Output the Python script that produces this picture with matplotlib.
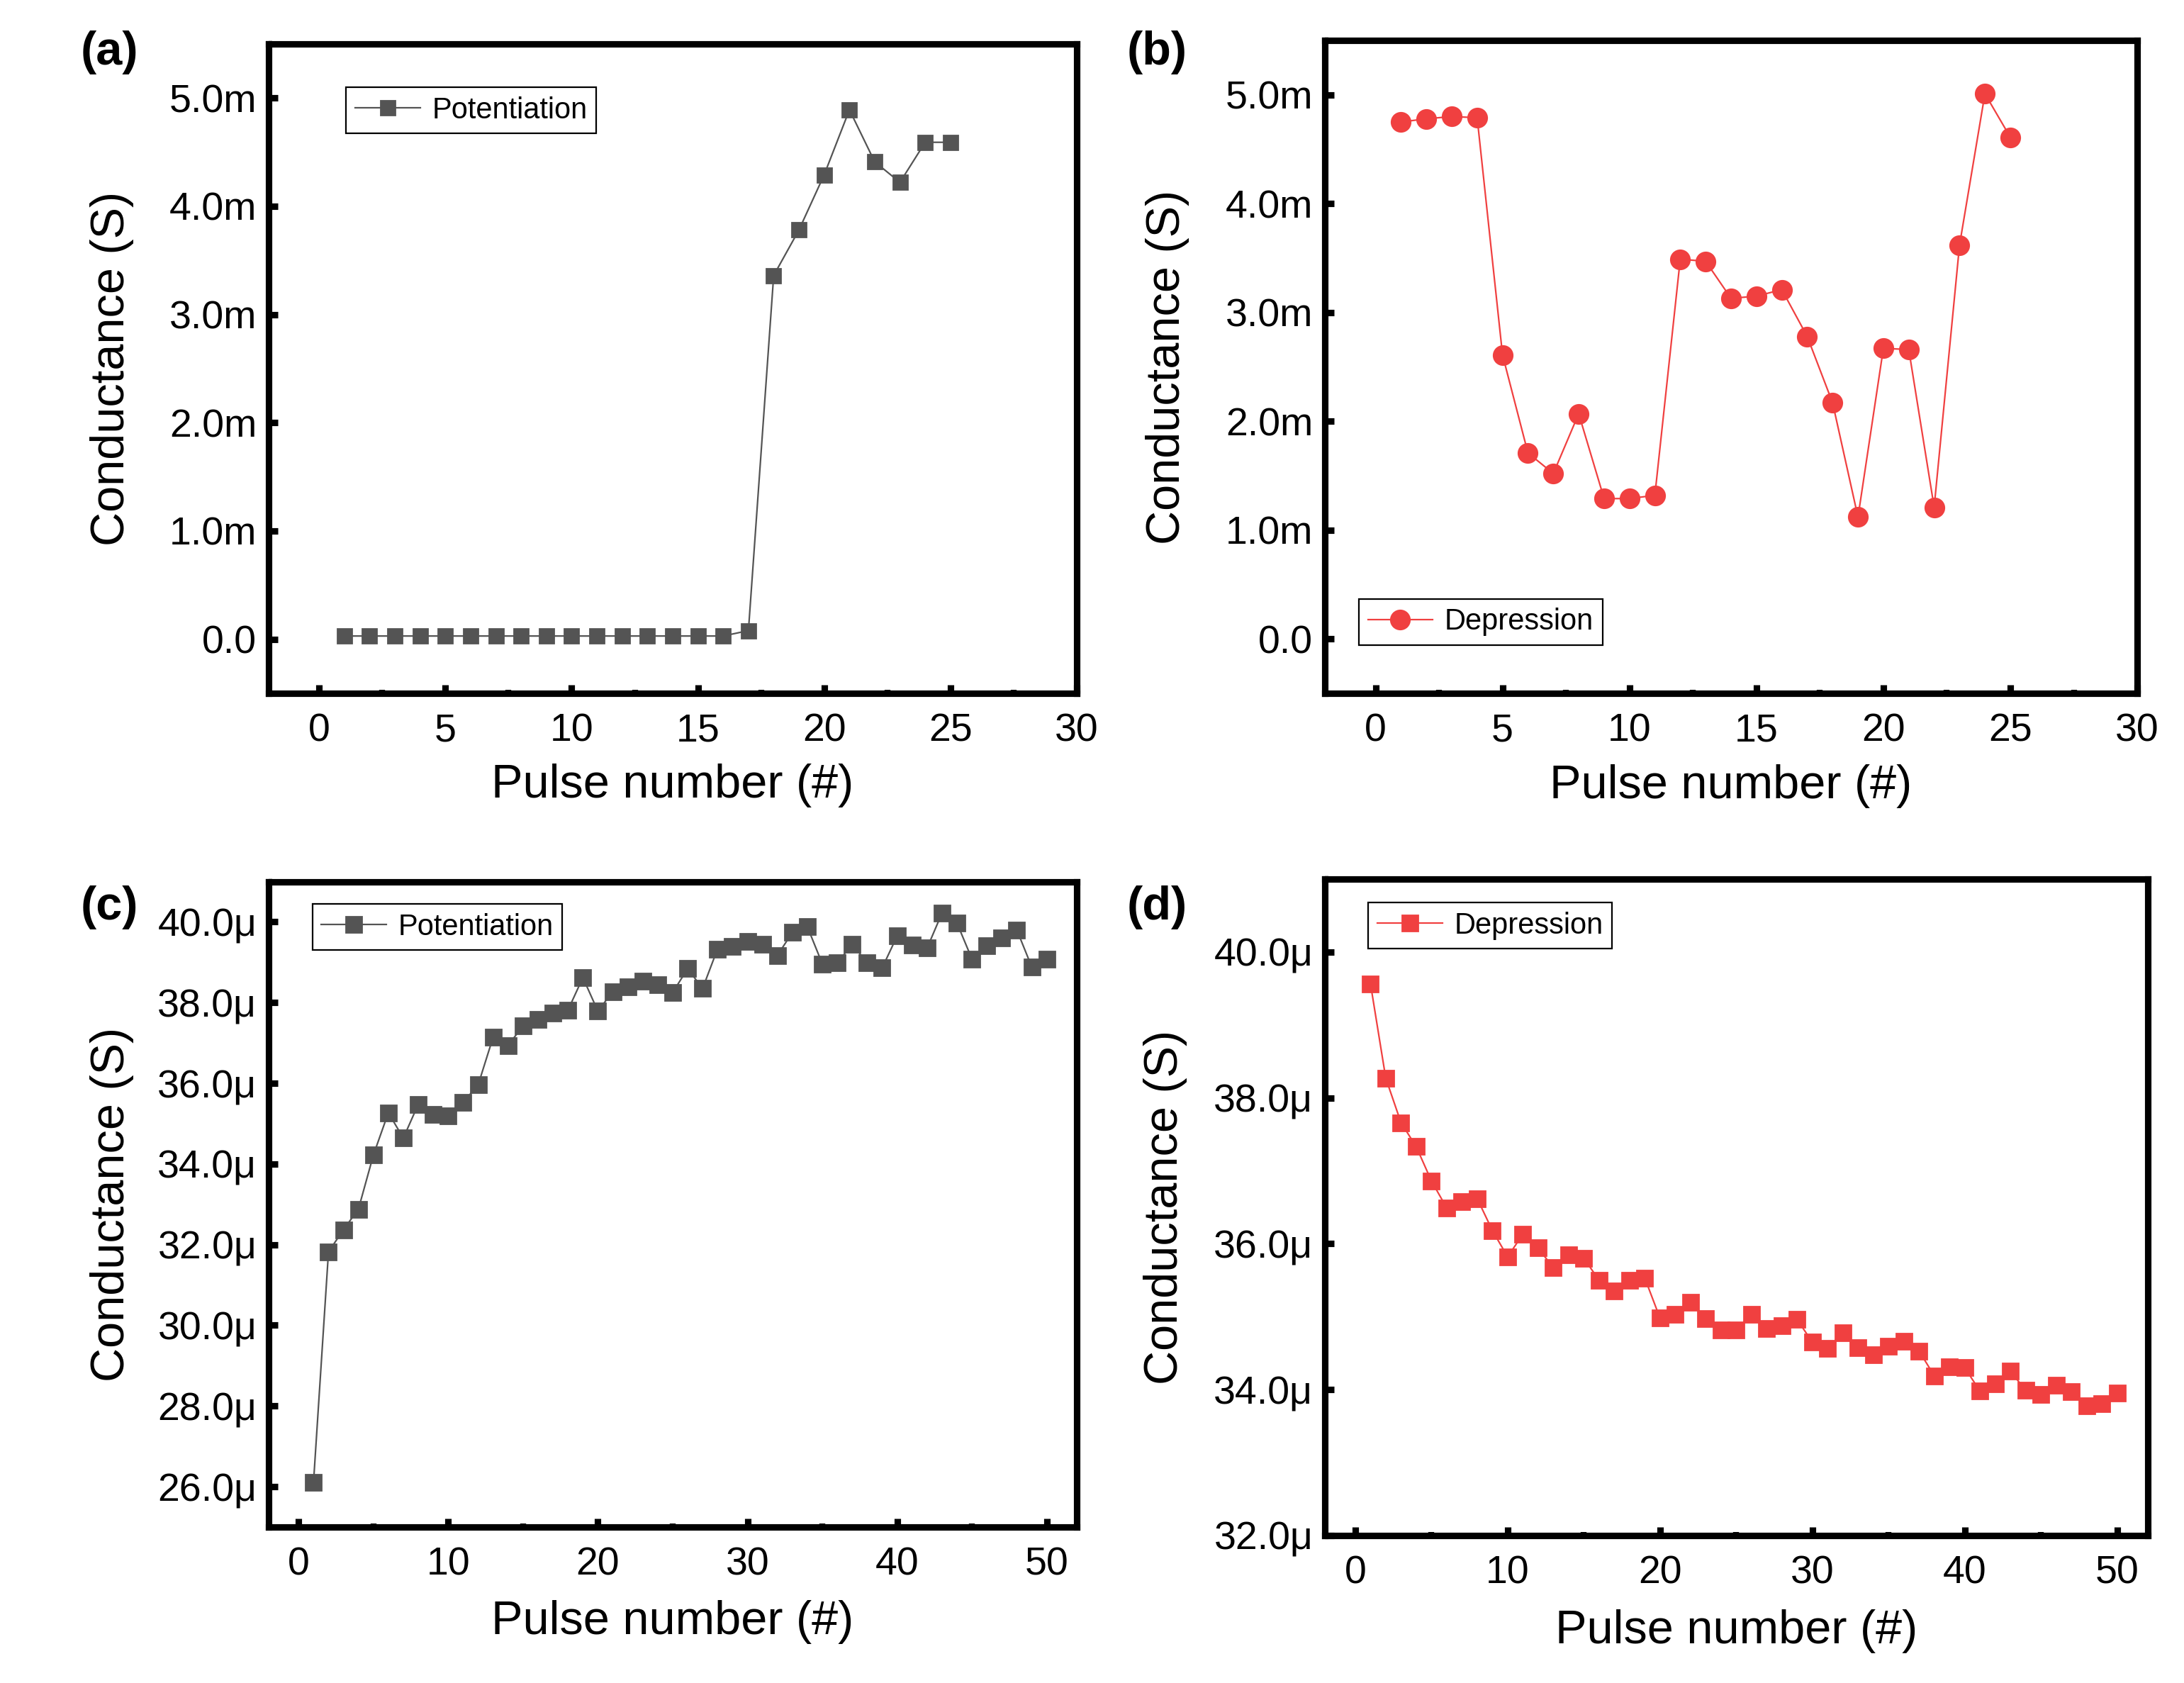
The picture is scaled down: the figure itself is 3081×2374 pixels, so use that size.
import numpy as np
import matplotlib
matplotlib.use("Agg")
import matplotlib.pyplot as plt
from matplotlib.ticker import MultipleLocator, FuncFormatter

plt.rcParams['font.family'] = ['Liberation Sans', 'DejaVu Sans']

# (a) potentiation, 25 pulses, conductance in mS
pulse_a = np.arange(1, 26)
pot_a = [0.03, 0.03, 0.03, 0.03, 0.03, 0.03, 0.03, 0.03, 0.03, 0.03,
         0.03, 0.03, 0.03, 0.03, 0.03, 0.03, 0.08, 3.36, 3.78, 4.29,
         4.89, 4.41, 4.22, 4.59, 4.59]

# (b) depression, 25 pulses, conductance in mS
pulse_b = np.arange(1, 26)
dep_b = [4.75, 4.78, 4.80, 4.79, 2.61, 1.71, 1.52, 2.07, 1.29, 1.29,
         1.32, 3.49, 3.47, 3.13, 3.15, 3.21, 2.78, 2.17, 1.12, 2.67,
         2.66, 1.21, 3.62, 5.01, 4.61]

# (c) potentiation, 50 pulses, conductance in uS
pulse_c = np.arange(1, 51)
pot_c = [26.11, 31.82, 32.37, 32.88, 34.22, 35.27, 34.64, 35.48, 35.23, 35.19,
         35.53, 35.96, 37.14, 36.94, 37.42, 37.58, 37.74, 37.81, 38.62, 37.79,
         38.27, 38.39, 38.53, 38.45, 38.25, 38.84, 38.35, 39.33, 39.39, 39.52,
         39.44, 39.17, 39.74, 39.88, 38.96, 38.98, 39.45, 38.98, 38.86, 39.65,
         39.42, 39.35, 40.22, 39.97, 39.08, 39.41, 39.60, 39.80, 38.88, 39.08]

# (d) depression, 50 pulses, conductance in uS
pulse_d = np.arange(1, 51)
dep_d = [39.56, 38.27, 37.66, 37.33, 36.86, 36.49, 36.58, 36.62, 36.18, 35.82,
         36.13, 35.94, 35.67, 35.85, 35.80, 35.50, 35.35, 35.50, 35.53, 34.98,
         35.03, 35.20, 34.97, 34.82, 34.82, 35.03, 34.84, 34.88, 34.96, 34.65,
         34.56, 34.78, 34.57, 34.48, 34.59, 34.66, 34.53, 34.19, 34.31, 34.30,
         33.98, 34.08, 34.25, 33.99, 33.93, 34.06, 33.97, 33.78, 33.81, 33.95]

gray = '#545454'
red = '#f04040'

fig = plt.figure(figsize=(15.405, 11.87), dpi=200)

ax_a = fig.add_axes([0.123, 0.588, 0.370, 0.386])
ax_b = fig.add_axes([0.6066, 0.588, 0.372, 0.388])
ax_c = fig.add_axes([0.123, 0.0927, 0.370, 0.3835])
ax_d = fig.add_axes([0.6066, 0.0877, 0.3767, 0.390])


def fmt(suffix):
    def f(v, p):
        if abs(v) < 1e-9:
            return "0.0"
        return f"{v:.1f}{suffix}"
    return FuncFormatter(f)


def style(ax, xmaj, xmin, ymaj, ymin, suffix, xlab_y):
    for s in ax.spines.values():
        s.set_linewidth(3.3)
    ax.xaxis.set_major_locator(MultipleLocator(xmaj))
    ax.xaxis.set_minor_locator(MultipleLocator(xmin))
    ax.yaxis.set_major_locator(MultipleLocator(ymaj))
    ax.yaxis.set_minor_locator(MultipleLocator(ymin))
    ax.yaxis.set_major_formatter(fmt(suffix))
    ax.tick_params(which='both', direction='in', top=False, right=False)
    ax.tick_params(which='major', length=4.5, width=3.3, labelsize=20)
    ax.tick_params(axis='x', which='major', pad=10)
    ax.tick_params(axis='y', which='major', pad=6)
    ax.tick_params(which='minor', length=1.8, width=3.0)
    ax.set_xlabel("Pulse number (#)", fontsize=24)
    ax.set_ylabel("Conductance (S)", fontsize=24)
    ax.yaxis.set_label_coords(-0.167, 0.5)
    ax.xaxis.set_label_coords(0.5, xlab_y)


def leg(ax, loc, anchor):
    lg = ax.legend(loc=loc, bbox_to_anchor=anchor, fontsize=15, frameon=True,
                   fancybox=False, framealpha=1, edgecolor='black',
                   borderaxespad=0, handlelength=2.2, handletextpad=0.4,
                   borderpad=0.3)
    lg.get_frame().set_linewidth(0.8)


# (a)
ax_a.plot(pulse_a, pot_a, color=gray, lw=0.8, marker='s', ms=7.2, label='Potentiation')
ax_a.set_xlim(-2, 30)
ax_a.set_ylim(-0.5, 5.5)
style(ax_a, 5, 2.5, 1, 0.5, 'm', -0.108)
leg(ax_a, 'upper left', (0.096, 0.933))

# (b)
ax_b.plot(pulse_b, dep_b, color=red, lw=0.8, marker='o', ms=9.5, label='Depression')
ax_b.set_xlim(-2, 30)
ax_b.set_ylim(-0.5, 5.5)
style(ax_b, 5, 2.5, 1, 0.5, 'm', -0.108)
leg(ax_b, 'lower left', (0.042, 0.074))

# (c)
ax_c.plot(pulse_c, pot_c, color=gray, lw=0.8, marker='s', ms=7.6, label='Potentiation')
ax_c.set_xlim(-2, 52)
ax_c.set_ylim(25, 41)
style(ax_c, 10, 5, 2, 1, '\u03bc', -0.113)
leg(ax_c, 'upper left', (0.054, 0.965))

# (d)
ax_d.plot(pulse_d, dep_d, color=red, lw=0.8, marker='s', ms=7.6, label='Depression')
ax_d.set_xlim(-2, 52)
ax_d.set_ylim(32, 41)
style(ax_d, 10, 5, 2, 1, '\u03bc', -0.113)
leg(ax_d, 'upper left', (0.053, 0.964))

# panel letters
for lbl, x, y in [('(a)', 0.037, 0.969), ('(b)', 0.516, 0.969),
                  ('(c)', 0.037, 0.461), ('(d)', 0.516, 0.461)]:
    fig.text(x, y, lbl, fontsize=24, fontweight='bold', va='center', ha='left')

fig.savefig('out.png', dpi=200)
